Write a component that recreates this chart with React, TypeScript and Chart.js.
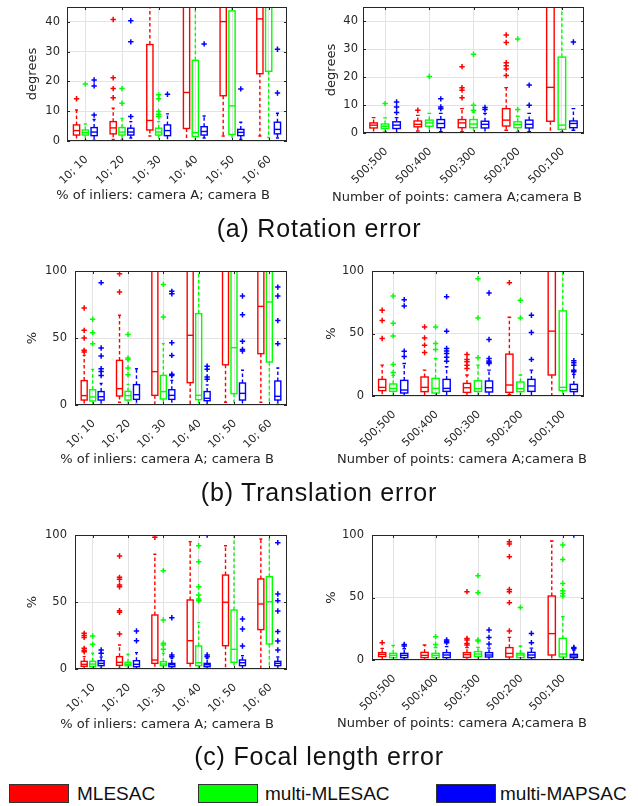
import React, { useEffect, useRef } from 'react';
import { Chart, registerables } from 'chart.js';

Chart.register(...registerables);
Chart.defaults.font.family = "'DejaVu Sans', sans-serif";
Chart.defaults.color = '#262626';

const inlierLabels = ['10; 10', '10; 20', '10; 30', '10; 40', '10; 50', '10; 60'];
const pointLabels = ['500;500', '500;400', '500;300', '500;200', '500;100'];
const seriesNames = ['MLESAC', 'multi-MLESAC', 'multi-MAPSAC'];
const seriesColors = ['#ff0000', '#00ff00', '#0000ff'];
const degTicks = [0, 10, 20, 30, 40];
const pctTicks = [0, 50, 100];

// box stats per group: [lower whisker, q1, median, q3, upper whisker]
// (a) rotation error, % of inliers
const rotInlMle = [[0, 2.0, 3.5, 5.4, 10.4], [0.5, 2.4, 4.4, 6.5, 11], [1.7, 3.7, 6.9, 32.4, 60], [0, 4.2, 16.3, 60, 90], [1.7, 15.2, 40.1, 70, 90], [1.7, 22.6, 41.0, 70, 90]];
const rotInlMulti = [[0.3, 2.0, 2.8, 3.7, 5.7], [0.5, 2.0, 3.0, 4.5, 7.6], [0, 2.0, 3.0, 4.3, 6.5], [0, 1.5, 2.8, 27.1, 60], [0, 2.2, 11.8, 43.7, 70], [1.2, 23.4, 50, 70, 90]];
const rotInlMap = [[0.3, 1.8, 3.0, 4.5, 7.2], [1, 2.0, 3.0, 4.3, 6.5], [0, 1.8, 3.5, 5.4, 9.1], [1, 2.0, 3.2, 4.8, 8.4], [0.5, 1.8, 2.9, 3.9, 6.3], [1, 2.4, 3.9, 6.3, 9.3]];
const rotInlMleOut = [[14.2], [40.8, 21.2, 17.6, 14.5], [], [], [], []];
const rotInlMultiOut = [[19.1], [17.6, 12.7], [15.5, 14.2, 9.9, 9.0, 8.2], [], [], []];
const rotInlMapOut = [[20.5, 18.5, 8.7], [40.4, 33.3, 8.2], [15.7], [32.6], [17.5], [30.8, 16.1]];

// (a) rotation error, number of points
const rotPtsMle = [[0, 1.8, 2.8, 3.6, 5.5], [0.7, 2.2, 3.1, 4.3, 6.3], [0.5, 1.9, 3.6, 4.8, 8.7], [1, 2.5, 4.6, 8.7, 16.2], [0, 4.2, 16.3, 60, 90]];
const rotPtsMulti = [[0.5, 1.6, 2.4, 3.2, 5.4], [0, 2.4, 3.6, 4.6, 7.0], [0, 1.9, 3.2, 4.8, 7.5], [0.5, 1.9, 3.0, 4.0, 6.0], [0.5, 1.3, 2.8, 27.1, 60]];
const rotPtsMap = [[0, 1.6, 2.8, 4.0, 5.5], [0.5, 1.9, 3.4, 4.8, 7.0], [0, 1.8, 3.1, 4.2, 7.0], [0.5, 1.8, 3.1, 4.6, 7.0], [1, 1.9, 3.4, 4.3, 8.7]];
const rotPtsMleOut = [[], [8.1], [23.7, 16.2, 15.3, 12.6], [35.0, 32.3, 25.1, 24.0, 22.9, 20.5], []];
const rotPtsMultiOut = [[10.5], [20.2], [28.1, 9.9, 8.1], [33.6, 8.4], []];
const rotPtsMapOut = [[11.1, 9.3, 7.3], [12.2, 9.3, 8.7], [9.1, 8.4], [17.1, 9.9], [32.5]];

// (b) translation error, % of inliers
const trInlMle = [[0, 3.7, 7.0, 18.2, 37], [2, 6.7, 12.2, 33.3, 67], [0, 7.2, 24.9, 130, 150], [0, 16.7, 52, 130, 150], [2, 30, 110, 130, 150], [2, 38.3, 73.6, 130, 150]];
const trInlMulti = [[0, 3.0, 6.0, 11.4, 26.6], [0.5, 3.7, 7.0, 10.2, 15.4], [0, 4.5, 10, 22.1, 45.8], [0, 4, 7.2, 68.2, 150], [0, 8.5, 42.8, 130, 150], [0, 32.1, 76.9, 130, 150]];
const trInlMap = [[0.5, 3.7, 6.2, 10, 16], [0.5, 4.2, 7.7, 15.2, 27], [0, 4.2, 7.2, 11.4, 18.4], [0, 3.2, 5, 10, 15], [0, 3.7, 8.7, 16.4, 25.9], [0.5, 3.7, 6.5, 17.9, 27.6]];
const trInlMleOut = [[72.4, 55.7, 50.0, 40.8, 39.6], [98, 84.3], [], [], [], []];
const trInlMultiOut = [[64, 54, 45.8], [52.7, 35, 34, 27.6, 22.6], [90, 65.7], [], [], []];
const trInlMapOut = [[91.3, 42.5, 36.6, 27, 25, 22], [], [84.8, 83, 46.5, 37, 23, 22], [28.9, 26.6, 20.9, 19.2], [81.3, 67.4, 47.5, 41.5, 40.3], [88, 81.3, 63, 45.8]];

// (b) translation error, number of points
const trPtsMle = [[0, 4.3, 6.9, 13.3, 24.7], [0, 3.5, 6.9, 15.2, 20.7], [0, 2.9, 6.6, 10.1, 16.8], [1, 2.9, 8.8, 33.5, 63], [0, 16.8, 51.9, 130, 150]];
const trPtsMulti = [[0, 3.7, 6.1, 9.6, 16.5], [0, 2.4, 6.1, 14.1, 30], [0, 3.7, 5.9, 12.2, 24.7], [0, 3.5, 5.9, 11.2, 16.8], [0, 4.3, 6.9, 68.1, 150]];
const trPtsMap = [[0, 2.4, 4.8, 12.5, 26], [0, 3.7, 6.1, 13.3, 23.4], [0, 3.2, 6.6, 12, 20.7], [0, 3.7, 8, 13.3, 20.7], [0, 3.5, 5.3, 9.3, 17.3]];
const trPtsMleOut = [[68.6, 60.4, 46], [55.3, 46.5, 40.7, 34.8], [33.2, 29.3, 27.4, 24.7, 22], [90.7], []];
const trPtsMultiOut = [[80, 58.2, 48.1, 25.3, 18.9], [55.3, 42, 37.2], [93.9, 62.5, 30.6], [76.6, 62.5], []];
const trPtsMapOut = [[77.1, 72.1, 35.9, 31.6], [79.5, 51.9, 38, 36, 34, 31, 27.9], [82.4, 45.2, 30, 28, 27, 26], [64.6, 50.8, 29.3], [28.2, 26.6, 24.7, 20.7, 19.4]];

// (c) focal length error, % of inliers
const flInlMle = [[0, 2.0, 3.5, 5.7, 9.2], [0.5, 2.7, 5.0, 9.2, 17.9], [0, 4.2, 6.7, 40.3, 85.6], [0, 4.2, 21.1, 51.5, 95], [0, 17.4, 49.8, 70.1, 92], [0, 29.4, 48.5, 67.2, 97]];
const flInlMulti = [[0, 1.7, 3.7, 5.7, 11.7], [0.5, 2.5, 3.5, 5.0, 11], [0, 2.5, 3.7, 5.5, 11.7], [0, 2.5, 4.7, 17.2, 34.6], [0, 5.0, 14.7, 44, 100], [0, 18.7, 50.2, 68.9, 100]];
const flInlMap = [[0.5, 2.5, 4.2, 6.2, 9], [0, 1.7, 3.5, 6.2, 12.2], [0, 1.7, 3.2, 4.2, 8], [0, 1.7, 3.2, 4.2, 8], [0, 2.5, 4.7, 6.7, 10], [0, 2.5, 4.2, 5.7, 9]];
const flInlMleOut = [[26.6, 25, 23.6, 15.4, 13.9, 12.9], [84.3, 68.4, 66.9, 62.7, 61.4, 43.5, 42.3, 26.1], [98.3], [], [], []];
const flInlMultiOut = [[24.6, 18.4], [], [73.4, 36.6, 19.2, 17.9, 14.7], [92, 80.1, 61.4, 55.2, 52.2, 51], [], []];
const flInlMapOut = [[14.2, 11.7], [28.4, 21.1], [38.3, 10.4, 9.2], [100, 10.4, 9.2], [37.3, 29.9, 17.2], [94.3, 56, 51, 43.3, 27.9, 20.9, 14.2]];

// (c) focal length error, number of points
const flPtsMle = [[0, 2.7, 4.5, 5.9, 9.3], [0, 1.9, 3.7, 6.1, 12], [0, 2.1, 4.3, 5.9, 9.9], [0, 2.4, 5.3, 9.9, 18.1], [0, 4.0, 21.1, 51.2, 95.2]];
const flPtsMulti = [[0, 1.9, 3.7, 5.3, 11.7], [0, 1.9, 3.7, 5.3, 10], [0, 2.7, 4.8, 6.7, 10.1], [0, 1.9, 4.0, 5.3, 11.2], [0, 2.4, 4.8, 17.3, 34.7]];
const flPtsMap = [[0, 1.9, 3.7, 5.3, 9], [0, 1.9, 4.0, 5.9, 10.7], [0, 2.4, 4.0, 5.9, 9.5], [0, 1.9, 4.0, 6.1, 9.5], [0, 1.9, 3.2, 4.5, 8]];
const flPtsMleOut = [[13.9], [], [54.7, 17.3, 16, 13.3, 12], [94.7, 92.8, 82.7, 56.5, 54.7, 45.9, 23.2], []];
const flPtsMultiOut = [[], [18.7, 12.5], [67.5, 53.9, 16, 15.2], [42.1], [92, 80.5, 61.3, 55.5, 53.3, 51.2]];
const flPtsMapOut = [[12.5, 11.2], [16, 15, 13.9], [24, 18.1, 12.8], [21.3, 13.9], [100, 10.1, 9.3]];

type Pad = { left: number; top: number; right: number; bottom: number };

type PanelProps = {
  left: number;
  top: number;
  width: number;
  height: number;
  pad: Pad;
  yWidth: number;
  xHeight: number;
  yTickPad: number;
  labels: string[];
  boxes: number[][][];
  outliers: number[][][];
  yMax: number;
  yTicks: number[];
  yTitle: string;
  offset: number;
};

const BOX_W = 0.17;

const makeBoxPlugin = (boxes: number[][][], offsets: number[], yTicks: number[], nGroups: number) => ({
  id: 'boxes',
  beforeDatasetsDraw(chart: any) {
    const { ctx, chartArea: a, scales } = chart;
    const xs = scales.x;
    const ys = scales.y;
    const py = (v: number) => ys.getPixelForValue(v);
    ctx.save();
    ctx.beginPath();
    ctx.rect(a.left, a.top, a.right - a.left, a.bottom - a.top);
    ctx.clip();
    ctx.lineWidth = 1.4;
    boxes.forEach((series, s) => {
      ctx.strokeStyle = seriesColors[s];
      series.forEach((b, i) => {
        const [lo, q1, med, q3, hi] = b;
        const c = xs.getPixelForValue(i + 1 + offsets[s]);
        const half = (xs.getPixelForValue(BOX_W) - xs.getPixelForValue(0)) / 2;
        ctx.setLineDash([3.5, 2.5]);
        ctx.beginPath();
        ctx.moveTo(c, py(q3));
        ctx.lineTo(c, py(hi));
        ctx.moveTo(c, py(q1));
        ctx.lineTo(c, py(lo));
        ctx.stroke();
        ctx.setLineDash([]);
        ctx.beginPath();
        ctx.moveTo(c - half / 2, py(hi));
        ctx.lineTo(c + half / 2, py(hi));
        ctx.moveTo(c - half / 2, py(lo));
        ctx.lineTo(c + half / 2, py(lo));
        ctx.stroke();
        ctx.strokeRect(c - half, py(q3), 2 * half, py(q1) - py(q3));
        ctx.beginPath();
        ctx.moveTo(c - half, py(med));
        ctx.lineTo(c + half, py(med));
        ctx.stroke();
      });
    });
    ctx.restore();
  },
  afterDatasetsDraw(chart: any) {
    const { ctx, chartArea: a, scales } = chart;
    ctx.save();
    ctx.strokeStyle = '#262626';
    ctx.lineWidth = 1;
    ctx.strokeRect(a.left + 0.5, a.top + 0.5, a.right - a.left - 1, a.bottom - a.top - 1);
    ctx.beginPath();
    yTicks.forEach((v) => {
      const y = Math.round(scales.y.getPixelForValue(v)) + 0.5;
      ctx.moveTo(a.left, y);
      ctx.lineTo(a.left + 3, y);
      ctx.moveTo(a.right, y);
      ctx.lineTo(a.right - 3, y);
    });
    for (let i = 1; i <= nGroups; i++) {
      const x = Math.round(scales.x.getPixelForValue(i)) + 0.5;
      ctx.moveTo(x, a.bottom);
      ctx.lineTo(x, a.bottom - 3);
      ctx.moveTo(x, a.top);
      ctx.lineTo(x, a.top + 3);
    }
    ctx.stroke();
    ctx.restore();
  },
});

const BoxPanel = (props: PanelProps) => {
  const canvasRef = useRef<HTMLCanvasElement>(null);

  useEffect(() => {
    const canvas = canvasRef.current;
    if (!canvas) return;
    const offsets = [-props.offset, 0, props.offset];

    const datasets = props.outliers.map((series, s) => ({
      label: seriesNames[s],
      data: series.flatMap((vals, i) => vals.map((v) => ({ x: i + 1 + offsets[s], y: v }))),
      pointStyle: 'cross',
      pointRadius: 2.7,
      pointBorderWidth: 1.5,
      borderColor: seriesColors[s],
      backgroundColor: seriesColors[s],
      showLine: false,
    }));

    const chart = new Chart(canvas, {
      type: 'scatter',
      data: { datasets },
      options: {
        animation: false,
        responsive: false,
        events: [],
        layout: { padding: props.pad },
        plugins: {
          legend: { display: false },
          tooltip: { enabled: false },
        },
        scales: {
          x: {
            type: 'linear',
            min: 0.5,
            max: props.labels.length + 0.5,
            afterBuildTicks: (scale: any) => {
              scale.ticks = props.labels.map((_, i) => ({ value: i + 1 }));
            },
            afterFit: (scale: any) => {
              scale.height = props.xHeight;
              scale.paddingLeft = 0;
              scale.paddingRight = 0;
            },
            grid: { color: '#e3e3e3', drawTicks: false },
            border: { display: false },
            ticks: {
              autoSkip: false,
              minRotation: 45,
              maxRotation: 45,
              padding: 12,
              labelOffset: 1,
              font: { size: 11 },
              callback: (v: any) => props.labels[Math.round(v) - 1] ?? '',
            },
          },
          y: {
            min: 0,
            max: props.yMax,
            afterBuildTicks: (scale: any) => {
              scale.ticks = props.yTicks.map((v) => ({ value: v }));
            },
            afterFit: (scale: any) => {
              // keep the plot box where the layout padding puts it
              scale.width = props.yWidth;
              scale.paddingTop = 0;
              scale.paddingBottom = 0;
            },
            grid: { color: '#e3e3e3', drawTicks: false },
            border: { display: false },
            ticks: { padding: props.yTickPad, font: { size: 11.5 } },
            title: { display: true, text: props.yTitle, font: { size: 13 }, padding: { top: 4, bottom: 4 } },
          },
        },
      },
      plugins: [makeBoxPlugin(props.boxes, offsets, props.yTicks, props.labels.length)],
    } as any);

    return () => {
      chart.destroy();
    };
  }, [props]);

  return (
    <canvas
      ref={canvasRef}
      width={props.width}
      height={props.height}
      style={{ position: 'absolute', left: props.left, top: props.top, width: props.width, height: props.height }}
    />
  );
};

const XTitle = ({ x, y, text }: { x: number; y: number; text: string }) => (
  <div
    style={{
      position: 'absolute',
      left: x - 160,
      top: y - 8,
      width: 320,
      textAlign: 'center',
      font: "13px 'DejaVu Sans', sans-serif",
      lineHeight: '16px',
      color: '#262626',
      whiteSpace: 'nowrap',
    }}
  >
    {text}
  </div>
);

const Caption = ({ y, text }: { y: number; text: string }) => (
  <div
    style={{
      position: 'absolute',
      left: 0,
      top: y - 12.25,
      width: 638,
      textAlign: 'center',
      font: "25px 'Liberation Sans', Arial, sans-serif",
      lineHeight: '25px',
      letterSpacing: '0.8px',
      color: '#111',
      whiteSpace: 'nowrap',
    }}
  >
    {text}
  </div>
);

const legendRects = [9, 198, 436];
const legendTexts = [77, 265, 500];

const inlTitle = '% of inliers: camera A; camera B';
const ptsTitle = 'Number of points: camera A;camera B';

const leftPad = (top: number): Pad => ({ left: 21, top, right: 13, bottom: 0 });
const rightPad = (top: number): Pad => ({ left: 10, top, right: 54, bottom: 0 });

const panels: PanelProps[] = [
  { left: 0, top: 0, width: 300, height: 194, pad: leftPad(7), yWidth: 46, xHeight: 53, yTickPad: 7, labels: inlierLabels, boxes: [rotInlMle, rotInlMulti, rotInlMap], outliers: [rotInlMleOut, rotInlMultiOut, rotInlMapOut], yMax: 45, yTicks: degTicks, yTitle: 'degrees', offset: 0.24 },
  { left: 310, top: 0, width: 328, height: 194, pad: rightPad(7), yWidth: 43, xHeight: 61, yTickPad: 5, labels: pointLabels, boxes: [rotPtsMle, rotPtsMulti, rotPtsMap], outliers: [rotPtsMleOut, rotPtsMultiOut, rotPtsMapOut], yMax: 45, yTicks: degTicks, yTitle: 'degrees', offset: 0.26 },
  { left: 0, top: 260, width: 300, height: 200, pad: leftPad(11), yWidth: 54, xHeight: 55, yTickPad: 8, labels: inlierLabels, boxes: [trInlMle, trInlMulti, trInlMap], outliers: [trInlMleOut, trInlMultiOut, trInlMapOut], yMax: 100, yTicks: pctTicks, yTitle: '%', offset: 0.24 },
  { left: 310, top: 260, width: 328, height: 200, pad: rightPad(11), yWidth: 52, xHeight: 64, yTickPad: 8, labels: pointLabels, boxes: [trPtsMle, trPtsMulti, trPtsMap], outliers: [trPtsMleOut, trPtsMultiOut, trPtsMapOut], yMax: 100, yTicks: pctTicks, yTitle: '%', offset: 0.26 },
  { left: 0, top: 524, width: 300, height: 202, pad: leftPad(11), yWidth: 54, xHeight: 57, yTickPad: 8, labels: inlierLabels, boxes: [flInlMle, flInlMulti, flInlMap], outliers: [flInlMleOut, flInlMultiOut, flInlMapOut], yMax: 100, yTicks: pctTicks, yTitle: '%', offset: 0.24 },
  { left: 310, top: 524, width: 328, height: 202, pad: rightPad(11), yWidth: 52, xHeight: 66, yTickPad: 8, labels: pointLabels, boxes: [flPtsMle, flPtsMulti, flPtsMap], outliers: [flPtsMleOut, flPtsMultiOut, flPtsMapOut], yMax: 100, yTicks: pctTicks, yTitle: '%', offset: 0.26 },
];

export default function App() {
  return (
    <div style={{ position: 'absolute', left: 0, top: 0, width: 638, height: 806, background: '#fff', overflow: 'hidden' }}>
      {panels.map((p, i) => (
        <BoxPanel key={i} {...p} />
      ))}
      <XTitle x={163} y={195} text={inlTitle} />
      <XTitle x={457} y={197} text={ptsTitle} />
      <XTitle x={167} y={459} text={inlTitle} />
      <XTitle x={462} y={459} text={ptsTitle} />
      <XTitle x={167} y={724} text={inlTitle} />
      <XTitle x={462} y={723} text={ptsTitle} />
      <Caption y={228} text="(a) Rotation error" />
      <Caption y={492} text="(b) Translation error" />
      <Caption y={756} text="(c) Focal length error" />
      {seriesNames.map((name, i) => (
        <React.Fragment key={name}>
          <div
            style={{
              position: 'absolute',
              left: legendRects[i],
              top: 784,
              width: 58,
              height: 17,
              background: seriesColors[i],
              border: '1px solid #333',
            }}
          />
          <div
            style={{
              position: 'absolute',
              left: legendTexts[i],
              top: 784,
              font: "19px 'Liberation Sans', Arial, sans-serif",
              lineHeight: '19px',
              color: '#111',
              whiteSpace: 'nowrap',
            }}
          >
            {name}
          </div>
        </React.Fragment>
      ))}
    </div>
  );
}
